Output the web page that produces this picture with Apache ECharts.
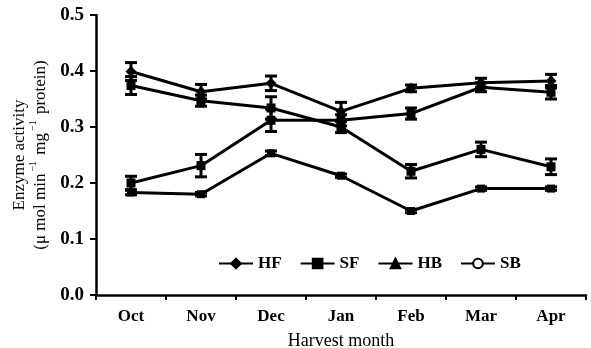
<!DOCTYPE html>
<html><head><meta charset="utf-8">
<script src="https://cdn.jsdelivr.net/npm/echarts@6/dist/echarts.min.js"></script>
<style>html,body{margin:0;padding:0;background:#fff}#c{width:591px;height:348px}</style>
</head><body><div id="c"></div>
<script>
const months = ['Oct','Nov','Dec','Jan','Feb','Mar','Apr'];
const yTicks = [0, 0.1, 0.2, 0.3, 0.4, 0.5];
const seriesNames = ['HF','SF','HB','SB'];
const HF = [0.399, 0.363, 0.378, 0.328, 0.369, 0.379, 0.382];
const HF_err = [0.016, 0.013, 0.013, 0.016, 0.006, 0.008, 0.012];
const SF = [0.374, 0.347, 0.334, 0.300, 0.221, 0.260, 0.229];
const SF_err = [0.016, 0.010, 0.020, 0.010, 0.012, 0.013, 0.014];
const HB = [0.200, 0.231, 0.312, 0.312, 0.324, 0.371, 0.362];
const HB_err = [0.012, 0.020, 0.020, 0.010, 0.010, 0.008, 0.012];
const SB = [0.183, 0.180, 0.253, 0.213, 0.150, 0.190, 0.190];
const SB_err = [0.004, 0.003, 0.004, 0.003, 0.003, 0.003, 0.003];

const vals = [HF, SF, HB, SB];
const errs = [HF_err, SF_err, HB_err, SB_err];
const plotSymbols = ['diamond','rect','rect','rect'];
const plotSizes = [11, 9, 9, 8];
const legendSymbols = ['diamond','rect','triangle','emptyCircle'];
const FONT = '"Liberation Serif","Times New Roman",serif';

const chart = echarts.init(document.getElementById('c'), null, {renderer:'canvas'});
const series = [];
vals.forEach((v, k) => {
  series.push({
    name: seriesNames[k] + '_data', type: 'line', data: v,
    symbol: plotSymbols[k], symbolSize: plotSizes[k],
    lineStyle: {color:'#000', width:3}, itemStyle: {color:'#000'},
    z: 3, animation: false
  });
  series.push({
    name: seriesNames[k] + '_err', type: 'custom',
    data: v.map((m, i) => [i, m - errs[k][i], m + errs[k][i]]),
    renderItem: (params, api) => {
      const lo = api.coord([api.value(0), api.value(1)]);
      const hi = api.coord([api.value(0), api.value(2)]);
      const w = 6;
      const st = {stroke:'#000', lineWidth:3};
      return {type:'group', children:[
        {type:'line', shape:{x1:lo[0], y1:lo[1], x2:hi[0], y2:hi[1]}, style:st},
        {type:'line', shape:{x1:lo[0]-w, y1:lo[1], x2:lo[0]+w, y2:lo[1]}, style:st},
        {type:'line', shape:{x1:hi[0]-w, y1:hi[1], x2:hi[0]+w, y2:hi[1]}, style:st}
      ]};
    },
    z: 4, animation: false
  });
  series.push({
    name: seriesNames[k], type: 'line', data: [],
    symbol: legendSymbols[k], symbolSize: 8,
    lineStyle: {color:'#000', width:3}, itemStyle: {color:'#000', borderColor:'#000', borderWidth:1.5}
  });
});

chart.setOption({
  animation: false,
  backgroundColor: '#fff',
  grid: {left: 96, right: 5, top: 15, bottom: 53, outerBoundsMode: 'none', containLabel: false},
  legend: {
    data: seriesNames, left: 213, top: 250,
    itemWidth: 34, itemHeight: 12, itemGap: 18,
    textStyle: {fontFamily: FONT, fontWeight: 'bold', fontSize: 17, color:'#000'}
  },
  xAxis: {
    type: 'category', data: months, boundaryGap: true,
    name: 'Harvest month', nameLocation: 'middle', nameGap: 37,
    nameTextStyle: {fontFamily: FONT, fontSize: 18, color:'#000'},
    axisLine: {lineStyle: {color:'#000', width:2.5}},
    axisTick: {show:true, length:5, lineStyle:{color:'#000', width:2}},
    axisLabel: {fontFamily: FONT, fontWeight:'bold', fontSize: 17, color:'#000', margin: 13}
  },
  yAxis: {
    type: 'value', min: yTicks[0], max: yTicks[yTicks.length-1], interval: 0.1,
    name: '{a|Enzyme activity}\n{a|(μ mol min}{s|−1}{a| mg}{s|−1}{a| protein)}',
    nameLocation: 'middle', nameGap: 46, nameRotate: 90,
    nameTextStyle: {
      color:'#000',
      rich: {
        a: {fontFamily: FONT, fontSize: 17, color:'#000', lineHeight: 21, verticalAlign:'bottom'},
        s: {fontFamily: FONT, fontSize: 10, color:'#000', lineHeight: 21, verticalAlign:'top', padding:[0,2,0,2]}
      }
    },
    splitLine: {show:false},
    axisLine: {show:true, lineStyle: {color:'#000', width:2.5}},
    axisTick: {show:true, length:6, lineStyle:{color:'#000', width:2}},
    axisLabel: {fontFamily: FONT, fontWeight:'bold', fontSize: 19, color:'#000', margin: 12,
      formatter: v => v.toFixed(1)}
  },
  series: series
});
</script></body></html>
